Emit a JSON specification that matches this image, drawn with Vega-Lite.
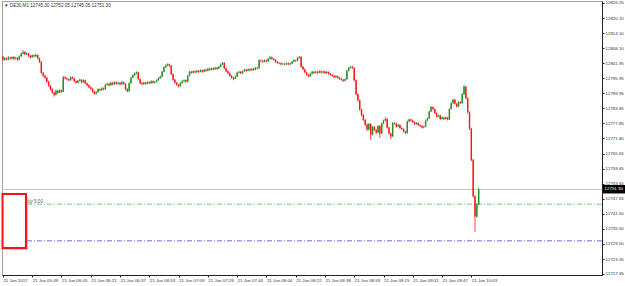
{
"$schema": "https://vega.github.io/schema/vega-lite/v6.json",
"width": 600, "height": 274,
"autosize": {"type": "none"},
"padding": {"left": 2, "top": 1, "right": 23, "bottom": 11},
"background": "white",
"config": {"view": {"stroke": "#a0a0a0", "strokeWidth": 1}, "font": "Liberation Sans", "scale": {"continuousPadding": 0}, "axis": {"labelOverlap": false, "tickCount": 100}},
"datasets": {
"one": [{}],
"bars": [
{"i":0,"o":12804.6,"h":12805.0,"l":12803.0,"c":12803.4},
{"i":1,"o":12803.4,"h":12804.5,"l":12803.1,"c":12804.0},
{"i":2,"o":12804.0,"h":12804.3,"l":12803.2,"c":12803.6},
{"i":3,"o":12803.6,"h":12804.9,"l":12803.3,"c":12804.3},
{"i":4,"o":12804.3,"h":12804.6,"l":12803.5,"c":12803.9},
{"i":5,"o":12803.9,"h":12804.8,"l":12803.6,"c":12804.5},
{"i":6,"o":12804.5,"h":12804.9,"l":12803.3,"c":12803.8},
{"i":7,"o":12803.8,"h":12804.6,"l":12803.5,"c":12804.2},
{"i":8,"o":12804.2,"h":12804.4,"l":12803.0,"c":12803.5},
{"i":9,"o":12803.5,"h":12805.2,"l":12803.3,"c":12804.8},
{"i":10,"o":12804.8,"h":12806.3,"l":12804.5,"c":12805.8},
{"i":11,"o":12805.8,"h":12807.4,"l":12805.5,"c":12806.6},
{"i":12,"o":12806.6,"h":12806.9,"l":12805.2,"c":12805.6},
{"i":13,"o":12805.6,"h":12806.4,"l":12805.3,"c":12806.0},
{"i":14,"o":12806.0,"h":12806.2,"l":12804.6,"c":12805.0},
{"i":15,"o":12805.0,"h":12805.3,"l":12804.0,"c":12804.4},
{"i":16,"o":12804.4,"h":12805.6,"l":12804.2,"c":12805.2},
{"i":17,"o":12805.2,"h":12805.5,"l":12804.4,"c":12804.8},
{"i":18,"o":12804.8,"h":12805.9,"l":12804.5,"c":12805.3},
{"i":19,"o":12805.3,"h":12805.5,"l":12803.7,"c":12804.0},
{"i":20,"o":12804.0,"h":12804.3,"l":12802.2,"c":12802.6},
{"i":21,"o":12802.6,"h":12802.9,"l":12797.8,"c":12798.2},
{"i":22,"o":12798.2,"h":12798.6,"l":12796.5,"c":12797.0},
{"i":23,"o":12797.0,"h":12797.4,"l":12795.8,"c":12796.2},
{"i":24,"o":12796.2,"h":12796.5,"l":12794.1,"c":12794.6},
{"i":25,"o":12794.6,"h":12795.0,"l":12792.6,"c":12793.0},
{"i":26,"o":12793.0,"h":12793.3,"l":12791.1,"c":12791.6},
{"i":27,"o":12791.6,"h":12792.0,"l":12789.8,"c":12790.2},
{"i":28,"o":12790.2,"h":12790.6,"l":12788.6,"c":12789.4},
{"i":29,"o":12789.4,"h":12791.4,"l":12789.1,"c":12791.0},
{"i":30,"o":12791.0,"h":12791.3,"l":12789.8,"c":12790.2},
{"i":31,"o":12790.2,"h":12791.6,"l":12790.0,"c":12791.2},
{"i":32,"o":12791.2,"h":12791.5,"l":12790.2,"c":12790.6},
{"i":33,"o":12790.6,"h":12796.9,"l":12790.4,"c":12796.4},
{"i":34,"o":12796.4,"h":12796.8,"l":12795.6,"c":12796.0},
{"i":35,"o":12796.0,"h":12796.3,"l":12795.2,"c":12795.6},
{"i":36,"o":12795.6,"h":12795.9,"l":12794.8,"c":12795.2},
{"i":37,"o":12795.2,"h":12796.8,"l":12795.0,"c":12796.4},
{"i":38,"o":12796.4,"h":12796.7,"l":12795.6,"c":12796.0},
{"i":39,"o":12796.0,"h":12796.2,"l":12794.4,"c":12794.8},
{"i":40,"o":12794.8,"h":12795.1,"l":12793.8,"c":12794.2},
{"i":41,"o":12794.2,"h":12795.4,"l":12794.0,"c":12795.0},
{"i":42,"o":12795.0,"h":12795.9,"l":12794.7,"c":12795.4},
{"i":43,"o":12795.4,"h":12795.6,"l":12794.0,"c":12794.4},
{"i":44,"o":12794.4,"h":12795.6,"l":12794.2,"c":12795.2},
{"i":45,"o":12795.2,"h":12795.4,"l":12793.6,"c":12794.0},
{"i":46,"o":12794.0,"h":12794.3,"l":12792.8,"c":12793.2},
{"i":47,"o":12793.2,"h":12793.5,"l":12792.0,"c":12792.4},
{"i":48,"o":12792.4,"h":12792.8,"l":12791.4,"c":12791.8},
{"i":49,"o":12791.8,"h":12792.1,"l":12790.2,"c":12790.6},
{"i":50,"o":12790.6,"h":12790.9,"l":12789.4,"c":12789.8},
{"i":51,"o":12789.8,"h":12790.8,"l":12789.5,"c":12790.4},
{"i":52,"o":12790.4,"h":12792.0,"l":12790.2,"c":12791.6},
{"i":53,"o":12791.6,"h":12791.9,"l":12790.8,"c":12791.2},
{"i":54,"o":12791.2,"h":12792.4,"l":12791.0,"c":12792.0},
{"i":55,"o":12792.0,"h":12792.3,"l":12791.2,"c":12791.6},
{"i":56,"o":12791.6,"h":12793.8,"l":12791.4,"c":12793.4},
{"i":57,"o":12793.4,"h":12794.2,"l":12793.1,"c":12793.8},
{"i":58,"o":12793.8,"h":12794.1,"l":12792.8,"c":12793.2},
{"i":59,"o":12793.2,"h":12794.6,"l":12793.0,"c":12794.2},
{"i":60,"o":12794.2,"h":12794.5,"l":12793.2,"c":12793.6},
{"i":61,"o":12793.6,"h":12794.8,"l":12793.4,"c":12794.4},
{"i":62,"o":12794.4,"h":12794.7,"l":12793.4,"c":12793.8},
{"i":63,"o":12793.8,"h":12794.6,"l":12793.5,"c":12794.2},
{"i":64,"o":12794.2,"h":12794.4,"l":12793.2,"c":12793.6},
{"i":65,"o":12793.6,"h":12794.9,"l":12793.4,"c":12794.4},
{"i":66,"o":12794.4,"h":12794.6,"l":12793.4,"c":12793.8},
{"i":67,"o":12793.8,"h":12794.0,"l":12791.2,"c":12791.6},
{"i":68,"o":12791.6,"h":12792.0,"l":12790.4,"c":12790.8},
{"i":69,"o":12790.8,"h":12794.4,"l":12790.6,"c":12794.0},
{"i":70,"o":12794.0,"h":12796.6,"l":12793.8,"c":12796.2},
{"i":71,"o":12796.2,"h":12797.6,"l":12796.0,"c":12797.2},
{"i":72,"o":12797.2,"h":12798.4,"l":12796.9,"c":12798.0},
{"i":73,"o":12798.0,"h":12798.8,"l":12797.6,"c":12798.4},
{"i":74,"o":12798.4,"h":12798.6,"l":12795.2,"c":12795.6},
{"i":75,"o":12795.6,"h":12795.9,"l":12793.6,"c":12794.0},
{"i":76,"o":12794.0,"h":12794.4,"l":12793.2,"c":12793.6},
{"i":77,"o":12793.6,"h":12794.6,"l":12793.4,"c":12794.2},
{"i":78,"o":12794.2,"h":12794.5,"l":12793.4,"c":12793.8},
{"i":79,"o":12793.8,"h":12794.8,"l":12793.6,"c":12794.4},
{"i":80,"o":12794.4,"h":12794.7,"l":12793.6,"c":12794.0},
{"i":81,"o":12794.0,"h":12795.2,"l":12793.8,"c":12794.8},
{"i":82,"o":12794.8,"h":12795.1,"l":12793.9,"c":12794.2},
{"i":83,"o":12794.2,"h":12795.0,"l":12793.9,"c":12794.6},
{"i":84,"o":12794.6,"h":12795.6,"l":12794.3,"c":12795.2},
{"i":85,"o":12795.2,"h":12796.4,"l":12795.0,"c":12796.0},
{"i":86,"o":12796.0,"h":12797.0,"l":12795.8,"c":12796.6},
{"i":87,"o":12796.6,"h":12799.0,"l":12796.4,"c":12798.6},
{"i":88,"o":12798.6,"h":12800.8,"l":12798.4,"c":12800.4},
{"i":89,"o":12800.4,"h":12801.6,"l":12800.1,"c":12801.2},
{"i":90,"o":12801.2,"h":12802.0,"l":12800.9,"c":12801.6},
{"i":91,"o":12801.6,"h":12801.9,"l":12800.6,"c":12801.0},
{"i":92,"o":12801.0,"h":12801.3,"l":12797.2,"c":12797.6},
{"i":93,"o":12797.6,"h":12797.9,"l":12795.0,"c":12795.4},
{"i":94,"o":12795.4,"h":12795.7,"l":12793.8,"c":12794.2},
{"i":95,"o":12794.2,"h":12794.5,"l":12793.0,"c":12793.4},
{"i":96,"o":12793.4,"h":12793.7,"l":12792.3,"c":12792.8},
{"i":97,"o":12792.8,"h":12794.4,"l":12792.6,"c":12794.0},
{"i":98,"o":12794.0,"h":12795.2,"l":12793.8,"c":12794.8},
{"i":99,"o":12794.8,"h":12795.6,"l":12794.5,"c":12795.2},
{"i":100,"o":12795.2,"h":12795.5,"l":12794.2,"c":12794.6},
{"i":101,"o":12794.6,"h":12797.4,"l":12794.4,"c":12797.0},
{"i":102,"o":12797.0,"h":12799.0,"l":12796.8,"c":12798.6},
{"i":103,"o":12798.6,"h":12798.9,"l":12797.8,"c":12798.2},
{"i":104,"o":12798.2,"h":12799.2,"l":12798.0,"c":12798.8},
{"i":105,"o":12798.8,"h":12799.1,"l":12798.0,"c":12798.4},
{"i":106,"o":12798.4,"h":12799.4,"l":12798.2,"c":12799.0},
{"i":107,"o":12799.0,"h":12799.3,"l":12798.2,"c":12798.6},
{"i":108,"o":12798.6,"h":12799.6,"l":12798.4,"c":12799.2},
{"i":109,"o":12799.2,"h":12799.5,"l":12798.2,"c":12798.6},
{"i":110,"o":12798.6,"h":12799.8,"l":12798.4,"c":12799.4},
{"i":111,"o":12799.4,"h":12799.7,"l":12798.6,"c":12799.0},
{"i":112,"o":12799.0,"h":12800.2,"l":12798.8,"c":12799.8},
{"i":113,"o":12799.8,"h":12800.1,"l":12799.0,"c":12799.4},
{"i":114,"o":12799.4,"h":12800.4,"l":12799.2,"c":12800.0},
{"i":115,"o":12800.0,"h":12800.3,"l":12799.2,"c":12799.6},
{"i":116,"o":12799.6,"h":12800.6,"l":12799.4,"c":12800.2},
{"i":117,"o":12800.2,"h":12800.5,"l":12799.4,"c":12799.8},
{"i":118,"o":12799.8,"h":12801.0,"l":12799.6,"c":12800.6},
{"i":119,"o":12800.6,"h":12802.0,"l":12800.4,"c":12801.6},
{"i":120,"o":12801.6,"h":12802.6,"l":12801.4,"c":12802.2},
{"i":121,"o":12802.2,"h":12802.4,"l":12799.6,"c":12800.0},
{"i":122,"o":12800.0,"h":12800.3,"l":12798.4,"c":12798.8},
{"i":123,"o":12798.8,"h":12799.1,"l":12797.6,"c":12798.0},
{"i":124,"o":12798.0,"h":12798.3,"l":12796.6,"c":12797.0},
{"i":125,"o":12797.0,"h":12797.3,"l":12795.8,"c":12796.2},
{"i":126,"o":12796.2,"h":12796.5,"l":12795.2,"c":12795.8},
{"i":127,"o":12795.8,"h":12797.0,"l":12795.6,"c":12796.6},
{"i":128,"o":12796.6,"h":12798.6,"l":12796.4,"c":12798.2},
{"i":129,"o":12798.2,"h":12799.0,"l":12797.9,"c":12798.6},
{"i":130,"o":12798.6,"h":12798.9,"l":12797.6,"c":12798.0},
{"i":131,"o":12798.0,"h":12799.2,"l":12797.8,"c":12798.8},
{"i":132,"o":12798.8,"h":12799.8,"l":12798.6,"c":12799.4},
{"i":133,"o":12799.4,"h":12799.7,"l":12798.6,"c":12799.0},
{"i":134,"o":12799.0,"h":12800.0,"l":12798.8,"c":12799.6},
{"i":135,"o":12799.6,"h":12799.9,"l":12798.8,"c":12799.2},
{"i":136,"o":12799.2,"h":12800.2,"l":12799.0,"c":12799.8},
{"i":137,"o":12799.8,"h":12800.1,"l":12799.0,"c":12799.4},
{"i":138,"o":12799.4,"h":12800.6,"l":12799.2,"c":12800.2},
{"i":139,"o":12800.2,"h":12800.5,"l":12799.6,"c":12800.0},
{"i":140,"o":12800.0,"h":12803.6,"l":12799.8,"c":12803.2},
{"i":141,"o":12803.2,"h":12803.5,"l":12802.6,"c":12803.0},
{"i":142,"o":12803.0,"h":12803.3,"l":12802.2,"c":12802.6},
{"i":143,"o":12802.6,"h":12803.6,"l":12802.4,"c":12803.2},
{"i":144,"o":12803.2,"h":12803.5,"l":12802.4,"c":12802.8},
{"i":145,"o":12802.8,"h":12804.2,"l":12802.6,"c":12803.8},
{"i":146,"o":12803.8,"h":12805.0,"l":12803.6,"c":12804.4},
{"i":147,"o":12804.4,"h":12804.7,"l":12803.4,"c":12803.8},
{"i":148,"o":12803.8,"h":12804.1,"l":12803.0,"c":12803.4},
{"i":149,"o":12803.4,"h":12803.7,"l":12802.2,"c":12802.6},
{"i":150,"o":12802.6,"h":12802.9,"l":12801.8,"c":12802.2},
{"i":151,"o":12802.2,"h":12802.5,"l":12801.6,"c":12802.0},
{"i":152,"o":12802.0,"h":12802.3,"l":12801.2,"c":12801.6},
{"i":153,"o":12801.6,"h":12802.2,"l":12801.3,"c":12801.8},
{"i":154,"o":12801.8,"h":12802.1,"l":12801.2,"c":12801.6},
{"i":155,"o":12801.6,"h":12802.4,"l":12801.3,"c":12802.0},
{"i":156,"o":12802.0,"h":12802.3,"l":12801.2,"c":12801.6},
{"i":157,"o":12801.6,"h":12802.3,"l":12801.3,"c":12801.9},
{"i":158,"o":12801.9,"h":12803.0,"l":12801.7,"c":12802.6},
{"i":159,"o":12802.6,"h":12803.6,"l":12802.4,"c":12803.2},
{"i":160,"o":12803.2,"h":12803.5,"l":12802.6,"c":12803.0},
{"i":161,"o":12803.0,"h":12804.6,"l":12802.8,"c":12804.2},
{"i":162,"o":12804.2,"h":12805.0,"l":12803.9,"c":12804.6},
{"i":163,"o":12804.6,"h":12804.8,"l":12800.2,"c":12800.6},
{"i":164,"o":12800.6,"h":12800.9,"l":12799.2,"c":12799.6},
{"i":165,"o":12799.6,"h":12799.9,"l":12798.0,"c":12798.4},
{"i":166,"o":12798.4,"h":12798.7,"l":12797.0,"c":12797.4},
{"i":167,"o":12797.4,"h":12797.7,"l":12796.4,"c":12796.8},
{"i":168,"o":12796.8,"h":12798.2,"l":12796.6,"c":12797.8},
{"i":169,"o":12797.8,"h":12799.0,"l":12797.6,"c":12798.6},
{"i":170,"o":12798.6,"h":12798.9,"l":12797.8,"c":12798.2},
{"i":171,"o":12798.2,"h":12799.0,"l":12797.9,"c":12798.6},
{"i":172,"o":12798.6,"h":12798.9,"l":12797.8,"c":12798.2},
{"i":173,"o":12798.2,"h":12799.2,"l":12798.0,"c":12798.8},
{"i":174,"o":12798.8,"h":12799.1,"l":12797.9,"c":12798.3},
{"i":175,"o":12798.3,"h":12799.1,"l":12798.0,"c":12798.7},
{"i":176,"o":12798.7,"h":12799.0,"l":12797.7,"c":12798.1},
{"i":177,"o":12798.1,"h":12798.9,"l":12797.8,"c":12798.5},
{"i":178,"o":12798.5,"h":12798.8,"l":12797.4,"c":12797.8},
{"i":179,"o":12797.8,"h":12798.1,"l":12797.0,"c":12797.4},
{"i":180,"o":12797.4,"h":12797.7,"l":12796.6,"c":12797.0},
{"i":181,"o":12797.0,"h":12797.3,"l":12796.0,"c":12796.4},
{"i":182,"o":12796.4,"h":12797.2,"l":12796.1,"c":12796.8},
{"i":183,"o":12796.8,"h":12797.1,"l":12795.8,"c":12796.2},
{"i":184,"o":12796.2,"h":12796.5,"l":12795.4,"c":12795.8},
{"i":185,"o":12795.8,"h":12796.1,"l":12795.0,"c":12795.4},
{"i":186,"o":12795.4,"h":12795.7,"l":12794.6,"c":12795.0},
{"i":187,"o":12795.0,"h":12796.0,"l":12794.8,"c":12795.6},
{"i":188,"o":12795.6,"h":12799.4,"l":12795.4,"c":12799.0},
{"i":189,"o":12799.0,"h":12800.6,"l":12798.8,"c":12800.2},
{"i":190,"o":12800.2,"h":12801.0,"l":12799.9,"c":12800.6},
{"i":191,"o":12800.6,"h":12800.9,"l":12799.8,"c":12800.2},
{"i":192,"o":12800.2,"h":12800.4,"l":12794.8,"c":12795.2},
{"i":193,"o":12795.2,"h":12795.5,"l":12789.2,"c":12789.6},
{"i":194,"o":12789.6,"h":12790.0,"l":12786.6,"c":12787.2},
{"i":195,"o":12787.2,"h":12787.5,"l":12782.9,"c":12783.4},
{"i":196,"o":12783.4,"h":12783.8,"l":12780.6,"c":12781.2},
{"i":197,"o":12781.2,"h":12781.6,"l":12778.8,"c":12779.2},
{"i":198,"o":12779.2,"h":12779.6,"l":12776.8,"c":12777.4},
{"i":199,"o":12777.4,"h":12777.8,"l":12774.8,"c":12775.4},
{"i":200,"o":12775.4,"h":12778.0,"l":12775.0,"c":12777.6},
{"i":201,"o":12777.6,"h":12777.9,"l":12771.2,"c":12773.4},
{"i":202,"o":12773.4,"h":12776.8,"l":12773.0,"c":12776.4},
{"i":203,"o":12776.4,"h":12776.7,"l":12774.8,"c":12775.2},
{"i":204,"o":12775.2,"h":12775.5,"l":12773.6,"c":12774.2},
{"i":205,"o":12774.2,"h":12777.2,"l":12774.0,"c":12776.8},
{"i":206,"o":12776.8,"h":12777.1,"l":12772.0,"c":12773.8},
{"i":207,"o":12773.8,"h":12778.2,"l":12773.6,"c":12777.8},
{"i":208,"o":12777.8,"h":12779.4,"l":12777.5,"c":12779.0},
{"i":209,"o":12779.0,"h":12780.4,"l":12778.7,"c":12779.6},
{"i":210,"o":12779.6,"h":12779.9,"l":12775.8,"c":12776.2},
{"i":211,"o":12776.2,"h":12776.5,"l":12773.4,"c":12773.8},
{"i":212,"o":12773.8,"h":12774.1,"l":12771.6,"c":12772.6},
{"i":213,"o":12772.6,"h":12778.4,"l":12772.4,"c":12778.0},
{"i":214,"o":12778.0,"h":12778.4,"l":12777.4,"c":12777.8},
{"i":215,"o":12777.8,"h":12778.1,"l":12776.2,"c":12776.6},
{"i":216,"o":12776.6,"h":12777.6,"l":12776.3,"c":12777.2},
{"i":217,"o":12777.2,"h":12777.5,"l":12775.6,"c":12776.0},
{"i":218,"o":12776.0,"h":12776.3,"l":12775.2,"c":12775.6},
{"i":219,"o":12775.6,"h":12775.9,"l":12774.2,"c":12774.6},
{"i":220,"o":12774.6,"h":12774.9,"l":12773.6,"c":12774.0},
{"i":221,"o":12774.0,"h":12779.0,"l":12773.8,"c":12778.6},
{"i":222,"o":12778.6,"h":12779.8,"l":12778.3,"c":12779.4},
{"i":223,"o":12779.4,"h":12779.7,"l":12778.6,"c":12779.0},
{"i":224,"o":12779.0,"h":12779.3,"l":12778.0,"c":12778.4},
{"i":225,"o":12778.4,"h":12778.7,"l":12777.2,"c":12777.6},
{"i":226,"o":12777.6,"h":12778.4,"l":12777.3,"c":12778.0},
{"i":227,"o":12778.0,"h":12778.3,"l":12776.8,"c":12777.2},
{"i":228,"o":12777.2,"h":12777.5,"l":12776.4,"c":12776.8},
{"i":229,"o":12776.8,"h":12777.1,"l":12775.8,"c":12776.2},
{"i":230,"o":12776.2,"h":12777.0,"l":12775.9,"c":12776.6},
{"i":231,"o":12776.6,"h":12779.4,"l":12776.4,"c":12779.0},
{"i":232,"o":12779.0,"h":12780.2,"l":12778.8,"c":12779.8},
{"i":233,"o":12779.8,"h":12783.0,"l":12779.6,"c":12782.6},
{"i":234,"o":12782.6,"h":12784.8,"l":12782.4,"c":12784.4},
{"i":235,"o":12784.4,"h":12784.7,"l":12783.2,"c":12783.6},
{"i":236,"o":12783.6,"h":12783.9,"l":12781.6,"c":12782.0},
{"i":237,"o":12782.0,"h":12782.3,"l":12780.2,"c":12780.6},
{"i":238,"o":12780.6,"h":12781.4,"l":12780.3,"c":12781.0},
{"i":239,"o":12781.0,"h":12781.3,"l":12779.2,"c":12779.6},
{"i":240,"o":12779.6,"h":12780.6,"l":12779.4,"c":12780.2},
{"i":241,"o":12780.2,"h":12780.5,"l":12779.2,"c":12779.6},
{"i":242,"o":12779.6,"h":12780.6,"l":12779.4,"c":12780.2},
{"i":243,"o":12780.2,"h":12780.5,"l":12779.0,"c":12779.4},
{"i":244,"o":12779.4,"h":12784.0,"l":12779.2,"c":12783.6},
{"i":245,"o":12783.6,"h":12786.4,"l":12783.4,"c":12786.0},
{"i":246,"o":12786.0,"h":12787.8,"l":12785.8,"c":12787.4},
{"i":247,"o":12787.4,"h":12787.7,"l":12785.4,"c":12785.8},
{"i":248,"o":12785.8,"h":12786.1,"l":12784.2,"c":12784.6},
{"i":249,"o":12784.6,"h":12786.8,"l":12784.4,"c":12786.4},
{"i":250,"o":12786.4,"h":12786.7,"l":12785.6,"c":12786.0},
{"i":251,"o":12786.0,"h":12790.0,"l":12785.8,"c":12789.6},
{"i":252,"o":12789.6,"h":12793.4,"l":12789.4,"c":12792.6},
{"i":253,"o":12792.6,"h":12792.9,"l":12787.6,"c":12788.0},
{"i":254,"o":12788.0,"h":12788.3,"l":12781.8,"c":12782.4},
{"i":255,"o":12782.4,"h":12782.7,"l":12775.2,"c":12775.8},
{"i":256,"o":12775.8,"h":12776.1,"l":12762.6,"c":12763.2},
{"i":257,"o":12763.2,"h":12763.5,"l":12748.0,"c":12748.6},
{"i":258,"o":12748.6,"h":12749.0,"l":12734.2,"c":12740.4},
{"i":259,"o":12740.4,"h":12745.8,"l":12740.0,"c":12745.4},
{"i":260,"o":12745.3,"h":12752.05,"l":12745.05,"c":12751.3}
]
},
"layer": [
{"data": {"name": "one"},
 "mark": {"type": "rule", "color": "#c8c8c8", "strokeWidth": 1},
 "encoding": {"y": {"datum": 12751.3, "type": "quantitative", "scale": {"domain": [12716.93, 12827.05], "nice": false, "zero": false, "padding": 0},
     "axis": {"orient": "right", "values": [12826.25,12820.10,12814.10,12808.10,12801.95,12795.95,12789.95,12783.85,12777.85,12771.80,12765.65,12759.65,12753.65,12747.65,12741.50,12735.50,12729.50,12723.35,12717.35],
       "tickCount": 100, "format": ".2f", "title": null, "grid": false, "domainColor": "#222", "tickColor": "#222", "tickSize": 2, "labelPadding": 1, "labelFontSize": 4.4, "labelColor": "#333", "labelFlush": false, "labelOverlap": false}}}},
{"data": {"name": "one"},
 "mark": {"type": "rule", "color": "#7cc47c", "strokeWidth": 1, "strokeDash": [5, 2, 1, 2]},
 "encoding": {"y": {"datum": 12745.4, "type": "quantitative"}}},
{"data": {"name": "one"},
 "mark": {"type": "rule", "color": "#9a9aff", "strokeWidth": 1.3, "strokeDash": [5, 2, 1, 2]},
 "encoding": {"y": {"datum": 12730.7, "type": "quantitative"}}},
{"data": {"name": "bars"},
 "mark": {"type": "rule", "strokeWidth": 0.8},
 "encoding": {
   "x": {"field": "i", "type": "quantitative", "scale": {"domain": [-0.49, 327.4], "nice": false, "zero": false, "padding": 0},
     "axis": {"orient": "bottom", "values": [0,16,32,48,64,80,96,112,128,144,160,176,192,208,224,240,256], "tickCount": 100,
       "labelExpr": "['21 Jun 2017','21 Jun 05:49','21 Jun 06:05','21 Jun 06:21','21 Jun 06:37','21 Jun 06:53','21 Jun 07:09','21 Jun 07:28','21 Jun 07:44','21 Jun 08:04','21 Jun 08:22','21 Jun 08:38','21 Jun 08:59','21 Jun 09:15','21 Jun 09:31','21 Jun 09:47','21 Jun 10:03'][round(datum.value/16)]",
       "title": null, "grid": false, "domainColor": "#222", "tickColor": "#222", "tickSize": 2, "labelAlign": "left", "labelBaseline": "top", "labelPadding": 1, "labelDx": -1, "labelFontSize": 4.4, "labelColor": "#333", "labelFlush": false, "labelOverlap": false}},
   "y": {"field": "l", "type": "quantitative"},
   "y2": {"field": "h"},
   "color": {"condition": {"test": "datum.c >= datum.o", "value": "#1f8f1f"}, "value": "#ff1414"}
 }},
{"data": {"name": "bars"},
 "mark": {"type": "bar", "width": 1.4},
 "encoding": {
   "x": {"field": "i", "type": "quantitative"},
   "y": {"field": "o", "type": "quantitative"},
   "y2": {"field": "c"},
   "color": {"condition": {"test": "datum.c >= datum.o", "value": "#1f8f1f"}, "value": "#ff1414"}
 }},
{"data": {"values": [{"t": "#58231 buy 5.00"}]},
 "mark": {"type": "text", "align": "right", "baseline": "bottom", "fontSize": 4.6, "color": "#555"},
 "encoding": {"text": {"field": "t"}, "x": {"datum": 21.9, "type": "quantitative"}, "y": {"datum": 12745.6, "type": "quantitative"}}},
{"data": {"name": "one"},
 "mark": {"type": "rect", "fill": "#b8b8b8", "opacity": 0.7},
 "encoding": {"x": {"datum": 0.7, "type": "quantitative"}, "x2": {"datum": 13.8}, "y": {"datum": 12748.7, "type": "quantitative"}, "y2": {"datum": 12727.0}}},
{"data": {"name": "one"},
 "mark": {"type": "rect", "fill": "white", "stroke": "#ff1010", "strokeWidth": 2},
 "encoding": {"x": {"datum": -0.2, "type": "quantitative"}, "x2": {"datum": 12.6}, "y": {"datum": 12749.5, "type": "quantitative"}, "y2": {"datum": 12727.8}}},
{"data": {"values": [{"t": "▼ DE30,M1  12745.30 12752.05 12745.05 12751.30"}]},
 "mark": {"type": "text", "align": "left", "baseline": "middle", "fontSize": 4.6, "color": "#333"},
 "encoding": {"text": {"field": "t"}, "x": {"datum": 0.6, "type": "quantitative"}, "y": {"datum": 12825.0, "type": "quantitative"}}},
{"data": {"name": "one"},
 "mark": {"type": "rect", "fill": "#000000", "clip": false},
 "encoding": {"x": {"datum": 327.9, "type": "quantitative"}, "x2": {"datum": 340.0}, "y": {"datum": 12753.1, "type": "quantitative"}, "y2": {"datum": 12749.7}}},
{"data": {"values": [{"t": "12751.30"}]},
 "mark": {"type": "text", "align": "left", "baseline": "middle", "fontSize": 4.4, "color": "white", "clip": false},
 "encoding": {"text": {"field": "t"}, "x": {"datum": 328.8, "type": "quantitative"}, "y": {"datum": 12751.4, "type": "quantitative"}}}
]
}
